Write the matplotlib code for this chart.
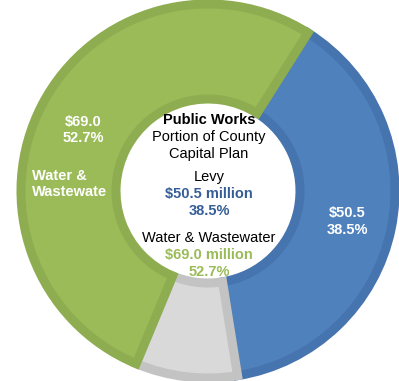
import matplotlib.pyplot as plt

plt.rcParams['font.family'] = ['Liberation Sans', 'DejaVu Sans']

labels = ['Levy', 'Other', 'Water & Wastewater']
shares = [38.5, 8.8, 52.7]
amounts = [50.5, None, 69.0]
faces = ['#4F81BD', '#D9D9D9', '#9BBB59']
edges = ['#4674AE', '#C3C3C3', '#8EAD50']

W, H = 399, 381
fig = plt.figure(figsize=(W / 100, H / 100), dpi=100)
ax = fig.add_axes([0, 0, 1, 1])

cx, cy = 208, H - 191
R = 187
ring = 95

wedges, _ = ax.pie(shares, colors=faces, startangle=57.7, counterclock=False,
                   radius=R, center=(cx, cy),
                   wedgeprops=dict(width=ring, linewidth=6.5))
for w, ec in zip(wedges, edges):
    w.set_edgecolor(ec)
    w.set_clip_path(w)

ax.set_xlim(0, W)
ax.set_ylim(0, H)
ax.set_aspect('auto')
ax.axis('off')

fs = 10.5


def txt(x, y, s, **kw):
    ax.text(x, H - y, s, ha='center', va='center', fontsize=fs, **kw)


# labels on the ring
txt(83, 122, '$%.1f' % amounts[2], color='white', weight='bold')
txt(83, 138, '%.1f%%' % shares[2], color='white', weight='bold')
ax.text(32, H - 176, 'Water &', ha='left', va='center', color='white', fontsize=fs, weight='bold')
ax.text(32, H - 192, 'Wastewate', ha='left', va='center', color='white', fontsize=fs, weight='bold')
txt(347, 213, '$%.1f' % amounts[0], color='white', weight='bold')
txt(347, 230, '%.1f%%' % shares[0], color='white', weight='bold')

# centre text
blue_txt = '#355E96'
green_txt = '#9BBB59'
txt(209, 120, 'Public Works', color='black', weight='bold')
txt(209, 137, 'Portion of County', color='black')
txt(209, 154, 'Capital Plan', color='black')
txt(209, 177, labels[0], color='black')
txt(209, 194, '$%.1f million' % amounts[0], color=blue_txt, weight='bold')
txt(209, 211, '%.1f%%' % shares[0], color=blue_txt, weight='bold')
txt(209, 238, labels[2], color='black')
txt(209, 255, '$%.1f million' % amounts[2], color=green_txt, weight='bold')
txt(209, 272, '%.1f%%' % shares[2], color=green_txt, weight='bold')

fig.savefig('out.png', dpi=100)
